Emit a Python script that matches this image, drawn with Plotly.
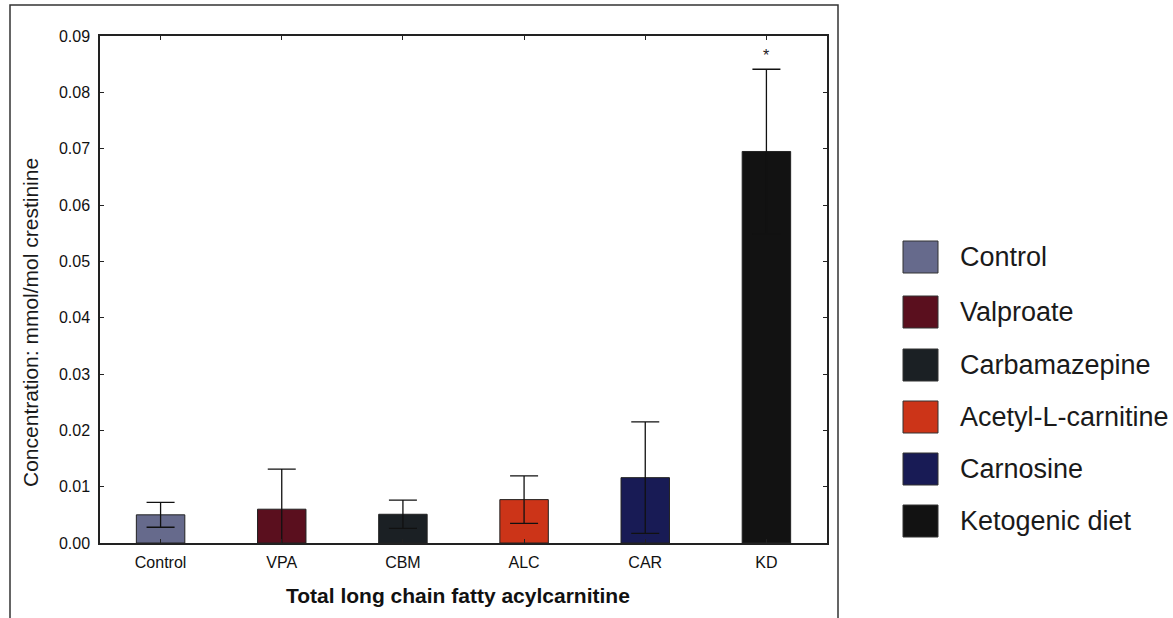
import plotly.graph_objects as go

# Group data: mean concentration and error (mmol/mol creatinine)
categories = ["Control", "VPA", "CBM", "ALC", "CAR", "KD"]
group_names = ["Control", "Valproate", "Carbamazepine", "Acetyl-L-carnitine",
               "Carnosine", "Ketogenic diet"]
means = [0.0050, 0.0060, 0.0051, 0.0077, 0.0116, 0.0695]
errors = [0.0022, 0.0071, 0.0025, 0.0042, 0.0099, 0.0146]
significance = ["", "", "", "", "", "*"]
colors = ["#666a8c", "#5a0f1e", "#1b2024", "#cc3418", "#181b55", "#121212"]
y_ticks = [0.00, 0.01, 0.02, 0.03, 0.04, 0.05, 0.06, 0.07, 0.08, 0.09]

W, H = 1173, 618
L, R, T, B = 100, 827, 36, 543
FONT = "Liberation Sans, Arial, sans-serif"


def px_x(px):
    return (px - L) / (R - L)


def px_y(py):
    return (B - py) / (B - T)


fig = go.Figure()
fig.add_trace(go.Bar(
    x=categories, y=means, width=0.4,
    marker=dict(color=colors, line=dict(color="#222", width=1)),
    error_y=dict(type="data", array=errors, visible=True,
                 color="#111", thickness=1.3, width=14),
    showlegend=False,
))

# significance markers above the error caps
for cat, m, e, s in zip(categories, means, errors, significance):
    if s:
        fig.add_annotation(x=cat, y=m + e, text=s, showarrow=False,
                           yshift=14, font=dict(family=FONT, size=16, color="#222"))

# outer frame around the plot panel
fig.add_shape(type="rect", xref="paper", yref="paper",
              x0=px_x(10), x1=px_x(838), y0=px_y(625), y1=px_y(5),
              line=dict(color="#333", width=1.5), layer="below")

# axis titles
fig.add_annotation(xref="paper", yref="paper", x=px_x(30), y=px_y(323),
                   text="Concentration: mmol/mol crestinine", textangle=-90,
                   showarrow=False, xanchor="center", yanchor="middle",
                   font=dict(family=FONT, size=21, color="#1a1a1a"))
fig.add_annotation(xref="paper", yref="paper", x=px_x(458), y=px_y(595),
                   text="<b>Total long chain fatty acylcarnitine</b>",
                   showarrow=False, xanchor="center", yanchor="middle",
                   font=dict(family=FONT, size=21, color="#111"))

# legend: colour squares with group names
row_y = [257, 312, 365, 417, 469, 521]
for name, col, ry in zip(group_names, colors, row_y):
    fig.add_shape(type="rect", xref="paper", yref="paper",
                  x0=px_x(903), x1=px_x(938), y0=px_y(ry + 16), y1=px_y(ry - 16),
                  fillcolor=col, line=dict(color="#333", width=1))
    fig.add_annotation(xref="paper", yref="paper", x=px_x(958), y=px_y(ry),
                       text=name, showarrow=False, xanchor="left", yanchor="middle",
                       font=dict(family=FONT, size=27, color="#1a1a1a"))

fig.update_layout(
    width=W, height=H,
    margin=dict(l=L, r=W - R, t=T, b=H - B),
    paper_bgcolor="white", plot_bgcolor="white",
    font=dict(family=FONT, color="#111"),
    bargap=0.6,
)
fig.update_xaxes(
    range=[-0.5, 5.5], showline=True, linecolor="#222", linewidth=1.5,
    mirror="ticks", ticks="inside", ticklen=4, tickcolor="#222",
    tickfont=dict(size=16), ticklabelstandoff=4, showgrid=False,
)
fig.update_yaxes(
    range=[0, 0.09], tickvals=y_ticks, tickformat=".2f",
    showline=True, linecolor="#222", linewidth=1.5,
    mirror="ticks", ticks="inside", ticklen=4, tickcolor="#222",
    tickfont=dict(size=16), ticklabelstandoff=5, showgrid=False, zeroline=False,
)

fig.write_html("out.html")
